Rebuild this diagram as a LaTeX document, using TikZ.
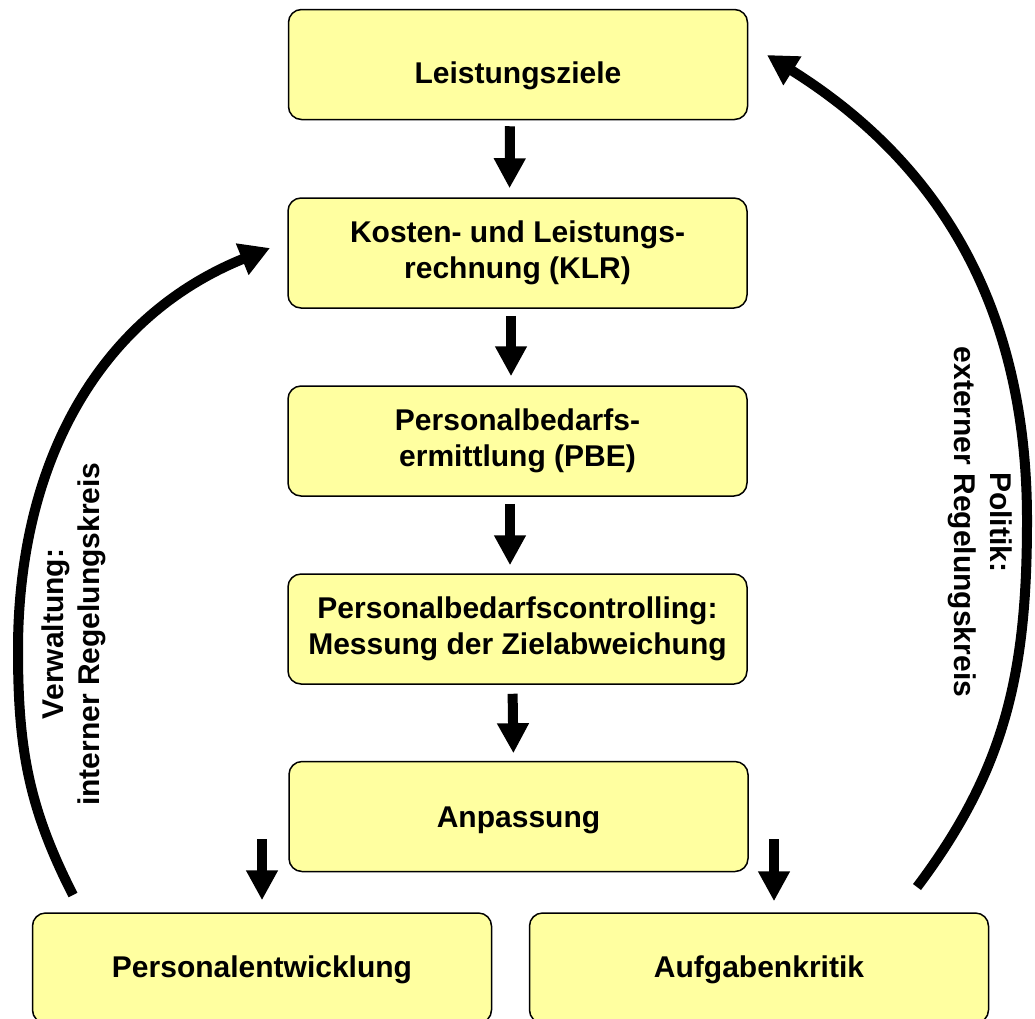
\documentclass[tikz,border=0pt]{standalone}
\usepackage{fontspec}
\setmainfont{Liberation Sans}
\usetikzlibrary{arrows.meta}
\definecolor{boxfill}{RGB}{255,255,160}
\begin{document}
\begin{tikzpicture}[x=1pt,y=1pt,
  box/.style={draw=black, line width=1.5pt, rounded corners=13pt, fill=boxfill,
    minimum width=459pt, minimum height=110pt, align=center, inner sep=0pt,
    font=\fontsize{30}{35.5}\selectfont\bfseries},
  blk/.style={line width=10pt, -{Triangle[width=30pt,length=30pt]}},
  loopline/.style={line width=10pt, -{Triangle[width=32pt,length=30pt]}},
  lbl/.style={align=center, inner sep=0pt, font=\fontsize{30}{36}\selectfont\bfseries}]
\useasboundingbox (0,0) rectangle (1035,-1018);
\clip (0,0) rectangle (1035,-1018);

\node[box, text height=37pt, text depth=0pt] (L) at (518,-64.5) {Leistungsziele};
\node[box] (KLR) at (517.5,-253) {Kosten- und Leistungs-\\rechnung (KLR)};
\node[box] (PBE) at (517.5,-441) {Personalbedarfs-\\ermittlung (PBE)};
\node[box] (C) at (517.5,-629) {Personalbedarfscontrolling:\\Messung der Zielabweichung};
\node[box, text height=21pt, text depth=0pt] (A) at (518.5,-816.5) {Anpassung};
\node[box, text height=18pt, text depth=0pt] (PE) at (262,-968) {Personalentwicklung};
\node[box, text height=18pt, text depth=0pt] (AK) at (759,-968) {Aufgabenkritik};

\draw[blk, shorten <=6pt, shorten >=9pt] ([xshift=-8pt]L.south) -- ([xshift=-8pt]KLR.north);
\draw[blk, shorten <=7pt, shorten >=9pt] ([xshift=-6.5pt]KLR.south) -- ([xshift=-6.5pt]PBE.north);
\draw[blk, shorten <=7pt, shorten >=8pt] ([xshift=-7.5pt]PBE.south) -- ([xshift=-7.5pt]C.north);
\draw[blk, shorten <=9pt, shorten >=7.5pt] ([xshift=-5pt]C.south) -- ([xshift=-5pt]A.north);

\coordinate (peIn) at (262,-839);
\coordinate (akIn) at (774,-839);
\draw[blk, shorten >=12pt] (peIn) -- (peIn |- PE.north);
\draw[blk, shorten >=11pt] (akIn) -- (akIn |- AK.north);

\coordinate (lS) at (73,-895);
\coordinate (lM) at (18,-650);
\coordinate (lE) at (270,-248);
\draw[loopline] (lS) to[out=117,in=-90] (lM) to[out=90,in=202] (lE);

\coordinate (rS) at (917,-887);
\coordinate (rM) at (1027,-520);
\coordinate (rE) at (767,-55);
\draw[loopline] (rS) to[out=53,in=-90] (rM) to[out=90,in=-32] (rE);

\node[lbl, rotate=90] (lv) at (74,-634) {Verwaltung:\\interner Regelungskreis};
\node[lbl, rotate=-90] (rp) at (980,-522) {Politik:\\externer Regelungskreis};
\end{tikzpicture}
\end{document}
